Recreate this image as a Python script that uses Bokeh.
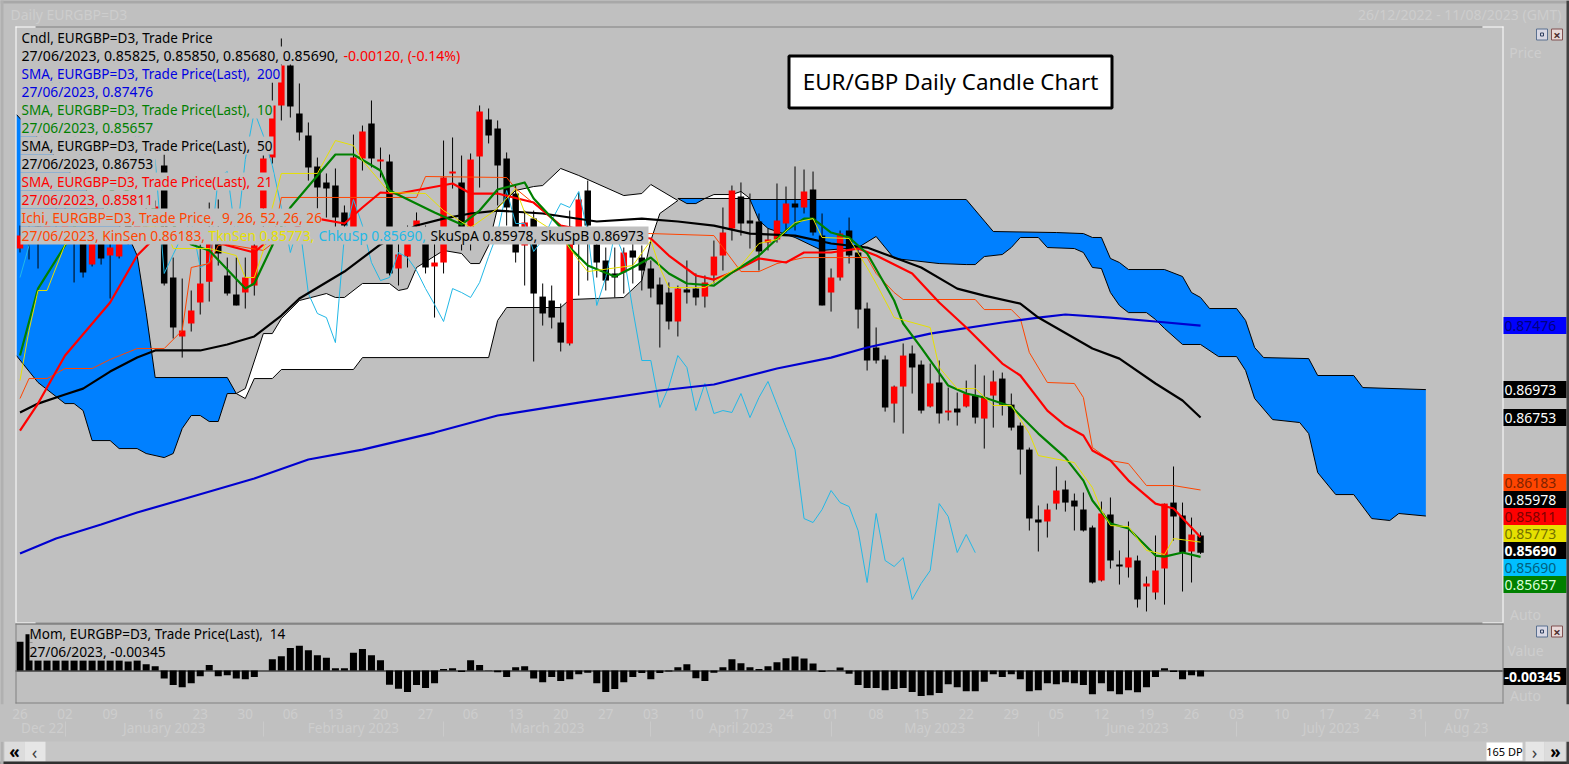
from bokeh.plotting import figure
from bokeh.layouts import column
from bokeh.models import Range1d, LinearAxis, FixedTicker, Label, BoxAnnotation
from bokeh.embed import file_html
from bokeh.resources import INLINE

# ---------- candles (27/12/2022 ... 27/06/2023), EURGBP daily ----------
high = [.88264,.88264,.88288,.88343,.88422,.88422,.88264,.88225,.88209,.88225,.88185,.88209,.88343,.88382,.88422,.88461,.88823,.88012,.87847,.87753,.88115,.88445,.88469,.88012,.88012,.88012,.88146,.88815,.89390,.89736,.89547,.89382,.89075,.88799,.88674,.88713,.88422,.88980,.89051,.89248,.88878,.88823,.88146,.88264,.88367,.88264,.88185,.88933,.88957,.88815,.88831,.89209,.89185,.89091,.88839,.88579,.88382,.88382,.87808,.87792,.87650,.88382,.88524,.88618,.88225,.88091,.88091,.88091,.88123,.88107,.87989,.87855,.87816,.87792,.87989,.87887,.87871,.88146,.88406,.88579,.88603,.88516,.88359,.88241,.88595,.88571,.88729,.88705,.88689,.88359,.87926,.88225,.88327,.88107,.87658,.87462,.87241,.87005,.87336,.87320,.87202,.87178,.87202,.86989,.86950,.87044,.87170,.87084,.87123,.87107,.86942,.86714,.86517,.86061,.86076,.86368,.86257,.86155,.86163,.85903,.86092,.86124,.85707,.85935,.85667,.85502,.85825,.86076,.86368,.86084,.85966,.85850]
low = [.88052,.87997,.87926,.88146,.88185,.88162,.87816,.87855,.87942,.87957,.87690,.88005,.88115,.88130,.88146,.88185,.87792,.87375,.87225,.87430,.87564,.87666,.87949,.87713,.87635,.87611,.87713,.88225,.88752,.89091,.89114,.88933,.88618,.88398,.88327,.88248,.88248,.88185,.88697,.88721,.88642,.87871,.87792,.87934,.88146,.87887,.87540,.87887,.88555,.88068,.88068,.88563,.88910,.88422,.88264,.87973,.87792,.87194,.87477,.87454,.87273,.87320,.87713,.87831,.87855,.87753,.87698,.87729,.87808,.87753,.87698,.87304,.87446,.87391,.87650,.87635,.87619,.87808,.87910,.88146,.88185,.88083,.87910,.88068,.88130,.88209,.88225,.88359,.88185,.87635,.87587,.87831,.87965,.87454,.87123,.87178,.86800,.86714,.86627,.86942,.86785,.86832,.86706,.86730,.86690,.86832,.86706,.86509,.86674,.86769,.86651,.86305,.85864,.85699,.85809,.86029,.86013,.85864,.85856,.85447,.85463,.85565,.85439,.85494,.85258,.85227,.85321,.85281,.85785,.85384,.85455,.85680]
open_ = [.88083,.88241,.88256,.88185,.88382,.88241,.88209,.88185,.87957,.88178,.88028,.88020,.88288,.88178,.88367,.88288,.88736,.87855,.87391,.87493,.87658,.87821,.88185,.87871,.87721,.87737,.87792,.88398,.88799,.89209,.89523,.89146,.88973,.88729,.88603,.88579,.88367,.88248,.88792,.89067,.88768,.88768,.87926,.88020,.88256,.88146,.87942,.87973,.88674,.88603,.88146,.88807,.89098,.89028,.88792,.88516,.88107,.88319,.87705,.87674,.87501,.87336,.88248,.88540,.88115,.87989,.87887,.87894,.88068,.88012,.87926,.87800,.87737,.87509,.87761,.87768,.87705,.87871,.88028,.88241,.88493,.88304,.88296,.88130,.88154,.88280,.88437,.88406,.88548,.88185,.87737,.87855,.88225,.88052,.87611,.87304,.87210,.86863,.86997,.87257,.87170,.86840,.87029,.86793,.86824,.86840,.86926,.86745,.86926,.87060,.86855,.86690,.86501,.85950,.85935,.86076,.86187,.86100,.86029,.85888,.85470,.85990,.85596,.85573,.85628,.85423,.85376,.85565,.86084,.85982,.85699,.85825]
close_ = [.88185,.88123,.88146,.88304,.88264,.88382,.88123,.87894,.88162,.88005,.88091,.88162,.88146,.88319,.88256,.88414,.87808,.87462,.87438,.87595,.87808,.88146,.88044,.87729,.87635,.87855,.88107,.88792,.89209,.89523,.89201,.88996,.88721,.88563,.88555,.88327,.88264,.88799,.89004,.88792,.88784,.87887,.88036,.88185,.88304,.87934,.87973,.88642,.88689,.88146,.88784,.89161,.88973,.88736,.88406,.88052,.88288,.87729,.87572,.87540,.87343,.88185,.88469,.88264,.87973,.87831,.87855,.88052,.88012,.87910,.87768,.87643,.87509,.87768,.87737,.87698,.87816,.88020,.88209,.88540,.88280,.88280,.88060,.88154,.88304,.88437,.88406,.88532,.88209,.87635,.87855,.88201,.88028,.87603,.87202,.87202,.86832,.86997,.87241,.87147,.86808,.87021,.86785,.86808,.86793,.86942,.86753,.86911,.87037,.86855,.86674,.86501,.85958,.85927,.86029,.86179,.86084,.86053,.85864,.85455,.85998,.85628,.85581,.85651,.85321,.85447,.85549,.86076,.85974,.85691,.85833,.85690]
assert len(high) == len(low) == len(open_) == len(close_) == 132

# ---------- moving averages: (bar index, value) read at line vertices ----------
sma200_i = [0,4,9,13,18,26,32,38,46,53,62,71,77,84,90,94,101,109,113,116,121,126,131]
sma200_v = [.85683,.85801,.85911,.86006,.86108,.86273,.86423,.86501,.86635,.86769,.86871,.86966,.87013,.87139,.87225,.87304,.87414,.87501,.87540,.87564,.87540,.87509,.87476]
sma50_i = [0,2,5,7,10,13,15,20,23,26,29,31,36,40,44,47,50,53,58,64,69,73,77,81,86,90,94,97,100,104,107,111,113,119,122,126,129,131]
sma50_v = [.86793,.86863,.86934,.86981,.87115,.87225,.87281,.87281,.87328,.87391,.87556,.87690,.87902,.88115,.88264,.88319,.88359,.88382,.88359,.88296,.88319,.88296,.88264,.88201,.88185,.88123,.88091,.88012,.87934,.87768,.87713,.87650,.87540,.87296,.87217,.87021,.86887,.86753]
sma21_i = [0,2,5,10,13,16,20,23,26,27,31,33,36,38,40,42,48,50,53,57,60,64,70,72,75,77,79,82,85,87,90,93,95,99,102,105,109,111,114,116,118,119,121,123,126,128,131]
sma21_v = [.86651,.86863,.87241,.87658,.88028,.88241,.88185,.88107,.88052,.88115,.88264,.88319,.88280,.88406,.88524,.88516,.88595,.88516,.88516,.88445,.88264,.88209,.88162,.88028,.87871,.87839,.87894,.88005,.87973,.88052,.88052,.88083,.88028,.87887,.87658,.87462,.87178,.87084,.86808,.86690,.86612,.86494,.86415,.86257,.86076,.86037,.85811]
sma10_i = [0,2,5,7,11,16,19,21,25,26,28,30,35,37,40,41,46,49,51,53,56,57,60,61,63,66,68,70,72,74,77,79,82,85,87,88,90,92,94,97,98,100,103,105,107,110,113,116,118,119,121,123,126,127,129,131]
sma10_v = [.87241,.87768,.88107,.88382,.88579,.88343,.88115,.88068,.87768,.87808,.88107,.88406,.88823,.88823,.88697,.88540,.88367,.88272,.88382,.88548,.88603,.88477,.88248,.88091,.87949,.87863,.87934,.88012,.87887,.87808,.87792,.87894,.88028,.88225,.88319,.88319,.88209,.88170,.88044,.87674,.87493,.87304,.87005,.86942,.86911,.86840,.86627,.86438,.86257,.86100,.85919,.85880,.85667,.85659,.85691,.85657]

# ---------- Ichimoku ----------
tenkan_i = [0,1,2,3,5,9,16,17,21,24,25,26,27,28,29,33,35,37,38,41,45,47,50,53,55,56,60,62,63,68,70,71,72,76,80,82,84,86,88,89,92,94,95,97,101,102,104,106,108,110,112,113,117,119,120,121,123,125,127,128,131]
tenkan_v = [.87044,.87438,.87753,.87753,.88115,.88225,.88264,.88083,.88083,.88028,.87855,.87855,.88068,.88406,.88674,.88674,.88933,.88894,.88776,.88524,.88516,.88382,.88248,.88398,.88555,.88367,.88185,.87989,.87902,.87949,.88146,.87934,.87776,.87776,.87949,.88123,.88154,.88288,.88319,.88170,.88162,.87934,.87808,.87540,.87462,.87147,.86981,.86981,.86848,.86848,.86627,.86454,.86399,.86202,.86021,.85903,.85895,.85707,.85675,.85801,.85773]
kijun_i = [0,1,3,5,8,10,13,16,18,19,21,22,23,27,28,29,44,45,54,55,60,64,70,77,78,80,82,84,87,94,95,97,98,106,107,110,111,112,114,117,118,119,121,123,125,128,131]
kijun_v = [.86903,.87060,.87060,.87139,.87139,.87210,.87296,.87296,.87438,.87934,.87965,.88107,.88115,.88068,.88123,.88485,.88485,.88650,.88642,.88555,.88264,.88201,.88201,.88185,.88091,.87902,.87902,.87965,.88012,.88012,.87887,.87737,.87682,.87682,.87603,.87603,.87532,.87265,.87029,.87021,.86911,.86517,.86415,.86391,.86218,.86218,.86183]
chikou_shift = 25

blue1_up_i = [-0.4,12,13,14,15,23,24]
blue1_up_v = [.89138,.88185,.88028,.87579,.87068,.87068,.86942]
blue1_lo_i = [-0.4,2,5,6,7,8,10,11,13,14,16,17,18,19,20,21,22,23,24]
blue1_lo_v = [.87241,.87029,.86863,.86863,.86808,.86572,.86572,.86509,.86509,.86470,.86438,.86470,.86667,.86769,.86769,.86722,.86722,.86942,.86942]
white1_up_i = [24,25,27,28,29,31,34,35,36,38,41,42,43,44,47,49,50,51,52,53,55,57,58,60,62,67,69,70,73]
white1_up_v = [.86942,.86981,.87414,.87414,.87532,.87674,.87729,.87698,.87698,.87808,.87808,.87753,.87768,.87934,.88068,.88044,.87965,.87965,.88107,.88406,.88540,.88571,.88579,.88713,.88658,.88500,.88516,.88587,.88461]
white1_lo_i = [24,25,26,28,29,37,38,52,53,54,60,61,64,67,69,70,71,73]
white1_lo_v = [.86942,.86903,.87060,.87060,.87131,.87131,.87225,.87225,.87517,.87619,.87619,.87682,.87690,.87698,.87831,.88146,.88359,.88461]
blue2_up_i = [73,76]
blue2_up_v = [.88477,.88477]
blue2_lo_i = [73,74,75,76]
blue2_lo_v = [.88477,.88437,.88437,.88477]
white2_up_i = [76,77,79,80,81]
white2_up_v = [.88477,.88508,.88508,.88532,.88477]
white2_lo_i = [76,81]
white2_lo_v = [.88477,.88477]
blue3_up_i = [81,105,108,115,118,119,120,121,122,123,127,129,130,131,132,135,136,137,138,143,144,148,149,156]
blue3_up_v = [.88469,.88469,.88217,.88209,.88201,.88170,.88170,.88005,.87973,.87918,.87918,.87863,.87737,.87698,.87611,.87611,.87517,.87304,.87225,.87217,.87084,.87084,.86989,.86973]
blue3_lo_i = [81,82,83,86,89,93,95,97,102,105,106,107,109,110,111,113,114,117,118,119,120,121,122,123,125,126,127,129,131,133,135,136,137,139,142,143,144,146,148,150,152,153,156]
blue3_lo_v = [.88469,.88304,.88241,.88170,.88068,.88091,.88178,.88005,.87965,.87957,.87957,.88020,.88036,.88091,.88170,.88170,.88091,.88083,.88052,.87934,.87926,.87737,.87635,.87579,.87579,.87525,.87454,.87328,.87328,.87233,.87233,.87123,.86903,.86737,.86714,.86627,.86320,.86147,.86147,.85958,.85943,.85998,.85978]

# ---------- momentum ----------
mom = [.0165,.0209,.0059,.0059,.0059,.0059,.0059,.0059,.0059,.0059,.0059,.0059,.0052,.0059,.0036,.0025,-.0046,-.0084,-.0096,-.0073,-.0033,.0031,-.0033,-.0027,-.0046,-.0050,-.0038,0,.0065,.0082,.0130,.0142,.0117,.0088,.0073,.0013,.0013,.0102,.0123,.0088,.0059,-.0082,-.0105,-.0123,-.0084,-.0100,-.0073,.0008,.0013,-.0008,.0059,.0031,.0002,-.0010,-.0038,.0019,.0025,-.0046,-.0067,-.0038,-.0061,-.0050,-.0021,-.0013,-.0073,-.0123,-.0107,-.0067,-.0038,-.0015,-.0050,-.0015,-.0006,.0019,.0036,-.0044,-.0061,-.0013,.0019,.0065,.0042,.0019,.0008,.0025,.0048,.0071,.0080,.0069,.0040,-.0008,.0002,.0017,-.0019,-.0084,-.0100,-.0100,-.0113,-.0107,-.0100,-.0123,-.0147,-.0142,-.0130,-.0079,-.0096,-.0119,-.0119,-.0065,-.0021,-.0038,-.0021,-.0050,-.0119,-.0113,-.0073,-.0079,-.0067,-.0073,-.0084,-.0136,-.0073,-.0119,-.0136,-.0113,-.0125,-.0096,-.0038,.0013,-.0008,-.0050,-.0027,-.00345]
assert len(mom) == 132

# ---------- axis texts ----------
week_ticks = [0,5,10,15,20,25,30,35,40,45,50,55,60,65,70,75,80,85,90,95,100,105,110,115,120,125,130,135,140,145,150,155,160]
week_labels = ["26","02","09","16","23","30","06","13","20","27","06","13","20","27","03","10","17","24","01","08","15","22","29","05","12","19","26","03","10","17","24","31","07"]
month_ticks = [2.5,16,37,58.5,80,101.5,124,145.5,160.5]
month_labels = ["Dec 22","January 2023","February 2023","March 2023","April 2023","May 2023","June 2023","July 2023","Aug 23"]
month_breaks = [5,27,47,70,90,113,135,156]

GRAY = "#C0C0C0"
FAINT = "#CDCDCD"
FONT = "Noto Sans"
C_BLUE, C_GREEN, C_RED, C_ORANGE = "#0000E0", "#008000", "#FF0000", "#FF4500"
C_YEL, C_CYAN, C_CLOUD = "#E6E000", "#22B8E6", "#0080FF"

p = figure(width=1569, height=741, output_backend="svg", toolbar_location=None,
           x_axis_location=None, y_axis_location=None,
           x_range=Range1d(-2.1638, 171.94), y_range=Range1d(.84495, .90035),
           min_border_left=0, min_border_right=0, min_border_top=0, min_border_bottom=37,
           background_fill_color=GRAY, border_fill_color=GRAY, outline_line_color=None)
p.xgrid.visible = False
p.ygrid.visible = False
p.extra_x_ranges = {"px": Range1d(0, 1569)}
p.extra_y_ranges = {"py": Range1d(704, 0), "mom": Range1d(-.01954, .38506)}

# cloud
def cloud(ui, uv, li, lv, color):
    p.patch(ui + li[::-1], uv + lv[::-1], fill_color=color, line_color=None)
    p.line(ui, uv, line_color="black", line_width=1)
    p.line(li, lv, line_color="black", line_width=1)
cloud(blue1_up_i, blue1_up_v, blue1_lo_i, blue1_lo_v, C_CLOUD)
cloud(white1_up_i, white1_up_v, white1_lo_i, white1_lo_v, "white")
cloud(blue2_up_i, blue2_up_v, blue2_lo_i, blue2_lo_v, C_CLOUD)
cloud(white2_up_i, white2_up_v, white2_lo_i, white2_lo_v, "white")
cloud(blue3_up_i, blue3_up_v, blue3_lo_i, blue3_lo_v, C_CLOUD)

# candles
idx = list(range(len(close_)))
col = [C_RED if c > o else "black" for o, c in zip(open_, close_)]
p.segment(idx, high, idx, low, line_color="black", line_width=1)
p.vbar(x=idx, width=0.72, top=[max(o, c) for o, c in zip(open_, close_)],
       bottom=[min(o, c) for o, c in zip(open_, close_)], fill_color=col, line_color=None)

# lines
p.line([i - chikou_shift for i in idx[chikou_shift:]], close_[chikou_shift:], line_color=C_CYAN, line_width=1)
p.line(kijun_i, kijun_v, line_color=C_ORANGE, line_width=1)
p.line(sma200_i, sma200_v, line_color="#0000D0", line_width=2.2, line_join="round")
p.line(sma50_i, sma50_v, line_color="black", line_width=2.2, line_join="round")
p.line(sma21_i, sma21_v, line_color=C_RED, line_width=2.2, line_join="round")
p.line(sma10_i, sma10_v, line_color=C_GREEN, line_width=2.2, line_join="round")
p.line(tenkan_i, tenkan_v, line_color=C_YEL, line_width=1)

# legend text bands
band_right = [212, 465, 281, 155, 273, 155, 273, 155, 273, 155, 321, 648]
band_top = [28 + 18 * k for k in range(12)]
p.quad(left=[20] * 12, right=band_right, top=band_top, bottom=[t + 18 for t in band_top],
       x_range_name="px", y_range_name="py", fill_color=GRAY, line_color=None)

# momentum
p.vbar(x=idx, width=0.78, top=[max(m, 0) for m in mom], bottom=[min(m, 0) for m in mom],
       y_range_name="mom", fill_color="black", line_color=None)
p.quad(left=[29, 29], right=[287, 168], top=[624, 642], bottom=[642, 660],
       x_range_name="px", y_range_name="py", fill_color=GRAY, line_color=None)

# frames
def rule(x0, y0, x1, y1, color):
    p.segment([x0], [y0], [x1], [y1], x_range_name="px", y_range_name="py", line_color=color, line_width=1)
rule(15, 670.5, 1503, 670.5, "black")
rule(35, 26.5, 1482, 26.5, "#808080")
rule(15, 26.5, 35, 26.5, "white")
rule(1482, 26.5, 1503, 26.5, "white")
rule(15.5, 26, 15.5, 622, "white")
rule(1502.5, 26, 1502.5, 622, "white")
rule(35, 622.5, 1482, 622.5, "#909090")
rule(15, 622.5, 35, 622.5, "white")
rule(1482, 622.5, 1503, 622.5, "white")
rule(15, 623.5, 1503, 623.5, "#606060")
rule(15, 702.5, 1503, 702.5, "#808080")
rule(15.5, 623, 15.5, 703, "#808080")
rule(1502.5, 623, 1502.5, 703, "#808080")

# real axes below
ax1 = LinearAxis(ticker=FixedTicker(ticks=week_ticks), major_label_overrides=dict(zip(week_ticks, week_labels)))
ax2 = LinearAxis(ticker=FixedTicker(ticks=month_ticks, minor_ticks=month_breaks),
                 major_label_overrides=dict(zip(month_ticks, month_labels)))
for ax, so in ((ax1, -2), (ax2, -18)):
    ax.axis_line_color = None
    ax.major_tick_line_color = None
    ax.minor_tick_line_color = None
    ax.major_label_standoff = so
    ax.major_label_text_color = FAINT
    ax.major_label_text_font = FONT
    ax.major_label_text_font_size = "13.5px"
    p.add_layout(ax, "below")
ax2.minor_tick_line_color = "#CACACA"
ax2.minor_tick_in = 0
ax2.minor_tick_out = 15

# helpers for annotations in window pixels
def box(l, r, t, b, fill, line=None, lw=1):
    p.add_layout(BoxAnnotation(left=l, right=r, top=t, bottom=b, x_range_name="px", y_range_name="py",
                               fill_color=fill, fill_alpha=1, line_color=line, line_width=lw, line_alpha=1))
def txt(x, y, s, color="black", size="13.8px", bold=False, align="left"):
    p.add_layout(Label(x=x, y=y, text=s, x_range_name="px", y_range_name="py", text_color=color,
                       text_font=FONT, text_font_size=size, text_align=align, text_baseline="middle",
                       text_font_style="bold" if bold else "normal"))

# title box
box(788.5, 1111.5, 55.5, 107.5, "white", "black", 3)
txt(950, 81, "EUR/GBP Daily Candle Chart", size="22.4px", align="center")

# header
txt(10, 14, "Daily EURGBP=D3", FAINT, "14px")
txt(1561, 14, "26/12/2022 - 11/08/2023 (GMT)", FAINT, "14px", align="right")
txt(1525, 52, "Price", FAINT, "14px", align="center")
txt(1525, 614, "Auto", FAINT, "14px", align="center")
txt(1525, 650, "Value", FAINT, "14px", align="center")
txt(1525, 695, "Auto", FAINT, "14px", align="center")

# legend text
T = 21
NB = "\u00a0 "
S = "13.5px"
txt(T, 37, "Cndl, EURGBP=D3, Trade Price", size=S)
txt(T, 55, "27/06/2023, 0.85825, 0.85850, 0.85680, 0.85690,", size="14.1px")
txt(343, 55, "-0.00120, (-0.14%)", C_RED, size="14.1px")
txt(T, 73, "SMA, EURGBP=D3, Trade Price(Last)," + NB + "200", C_BLUE, size=S)
txt(T, 91, "27/06/2023, 0.87476", C_BLUE)
txt(T, 109, "SMA, EURGBP=D3, Trade Price(Last)," + NB + "10", C_GREEN, size=S)
txt(T, 127, "27/06/2023, 0.85657", C_GREEN)
txt(T, 145, "SMA, EURGBP=D3, Trade Price(Last)," + NB + "50", size=S)
txt(T, 163, "27/06/2023, 0.86753")
txt(T, 181, "SMA, EURGBP=D3, Trade Price(Last)," + NB + "21", C_RED, size=S)
txt(T, 199, "27/06/2023, 0.85811", C_RED)
txt(T, 217, "Ichi, EURGBP=D3, Trade Price," + NB + "9, 26, 52, 26, 26", C_ORANGE)
txt(T, 235, "27/06/2023, KinSen 0.86183,", C_ORANGE)
txt(208, 235, "TknSen 0.85773,", C_YEL)
txt(318, 235, "ChkuSp 0.85690,", C_CYAN)
txt(430, 235, "SkuSpA 0.85978, SkuSpB 0.86973")
txt(29, 633, "Mom, EURGBP=D3, Trade Price(Last)," + NB + "14", size=S)
txt(29, 651, "27/06/2023, -0.00345")

# value tags
tag_y = [325, 389, 417, 482, 499, 516, 533, 550, 567, 584, 676]
tag_text = ["0.87476", "0.86973", "0.86753", "0.86183", "0.85978", "0.85811", "0.85773", "0.85690", "0.85690", "0.85657", "-0.00345"]
tag_fill = ["#0000FF", "black", "black", "#FF4500", "black", "#FF0000", "#E6E000", "black", "#00BFFF", "#008000", "black"]
tag_color = ["#000080", "white", "white", "#802200", "white", "#800000", "#737000", "white", "#005F80", "#D8FFD8", "white"]
tag_bold = [False] * 7 + [True, False, False, True]
for y, s, f, c, b in zip(tag_y, tag_text, tag_fill, tag_color, tag_bold):
    box(1503, 1566, y - 8.5, y + 8.5, f)
    txt(1504, y, s, c, "14px", b)

# window buttons
for wy in (34, 631):
    box(1536, 1547, wy - 5.5, wy + 5.5, "#D8D8E4", "#5A7090")
    box(1540, 1543, wy - 1.5, wy + 1.5, "#D8D8E4", "#304060")
    box(1551, 1562, wy - 5.5, wy + 5.5, "#E8D8D8", "#805050")
    txt(1556.5, wy, "×", "#503030", "13px", True, "center")

box(0, 1569, 0, 3, "#A8A8A8")
box(0, 3, 0, 704, "#B0B0B0")
box(1566, 1569, 0, 704, "#404040")

# ---------- navigation strip (window y 741..764) ----------
nav = figure(width=1569, height=23, output_backend="svg", toolbar_location=None,
             x_axis_location=None, y_axis_location=None,
             x_range=Range1d(0, 1569), y_range=Range1d(764, 741),
             min_border_left=0, min_border_right=0, min_border_top=0, min_border_bottom=0,
             background_fill_color="#C6C6C6", border_fill_color="#C6C6C6", outline_line_color=None)
nav.xgrid.visible = False
nav.ygrid.visible = False
nav_l = [4, 24, 1486, 1525, 1544, 0, 0, 1566]
nav_r = [24, 45, 1522, 1544, 1565, 1569, 3, 1569]
nav_t = [741, 741, 742, 741, 741, 761, 741, 741]
nav_b = [761, 761, 760, 761, 761, 764, 764, 764]
nav_c = ["#DCDCDC", "#E6E6E6", "white", "#E6E6E6", "#DCDCDC", "#303030", "#B0B0B0", "#404040"]
nav.quad(left=nav_l, right=nav_r, top=nav_t, bottom=nav_b, fill_color=nav_c, line_color=None)
def ntxt(x, s, color, size, bold):
    nav.add_layout(Label(x=x, y=751, text=s, text_color=color, text_font=FONT, text_font_size=size,
                         text_align="center", text_baseline="middle",
                         text_font_style="bold" if bold else "normal"))
ntxt(14, "«", "black", "17px", True)
ntxt(34, "‹", "#404040", "18px", False)
ntxt(1504, "165 DP", "black", "11px", False)
ntxt(1534, "›", "#404040", "18px", False)
ntxt(1555, "»", "black", "17px", True)

html = file_html(column(p, nav, spacing=0), INLINE).replace("<body>", '<body style="background:#C0C0C0">')
open("out.html", "w").write(html)
